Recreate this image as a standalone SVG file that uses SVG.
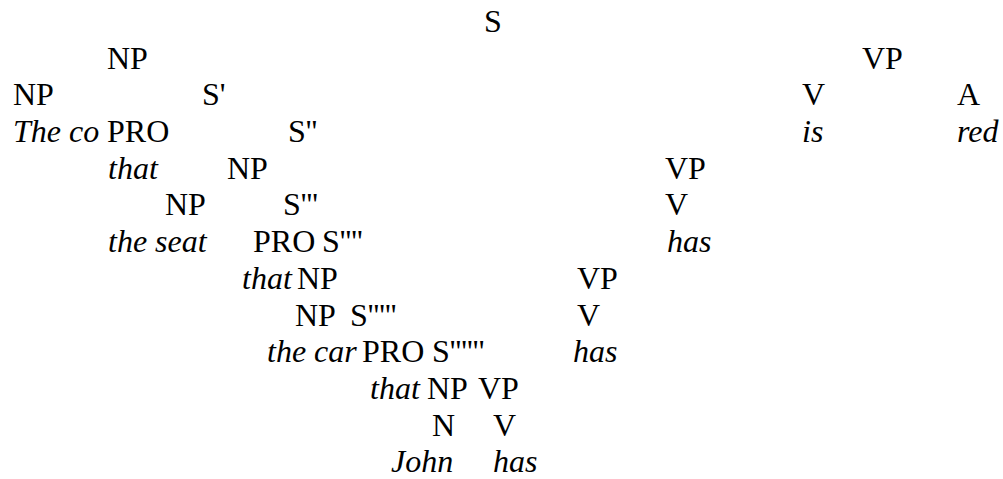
<svg xmlns="http://www.w3.org/2000/svg" width="1003" height="479" viewBox="0 0 1003 479">
<style>
text{font-family:"Liberation Serif","Times New Roman",serif;font-size:32px;fill:#000}
.w{font-style:italic}
</style>
<rect width="1003" height="479" fill="#fff"/>
<g id="nodes">
<g id="r1"><text x="484" y="32">S</text></g>
<g id="r2"><text x="107" y="69">NP</text><text x="862" y="69">VP</text></g>
<g id="r3"><text x="13" y="105">NP</text><text x="202" y="105">S'</text><text x="802" y="105">V</text><text x="957" y="105">A</text></g>
<g id="r4"><text class="w" x="13" y="142">The co</text><text x="107" y="142">PRO</text><text x="288" y="142">S''</text><text class="w" x="802" y="142">is</text><text class="w" x="957" y="142">red</text></g>
<g id="r5"><text class="w" x="108" y="179">that</text><text x="227" y="179">NP</text><text x="665" y="179">VP</text></g>
<g id="r6"><text x="165" y="215">NP</text><text x="283" y="215">S'''</text><text x="665" y="215">V</text></g>
<g id="r7"><text class="w" x="108" y="252">the seat</text><text x="253" y="252">PRO</text><text x="322" y="252">S''''</text><text class="w" x="667" y="252">has</text></g>
<g id="r8"><text class="w" x="242" y="289">that</text><text x="297" y="289">NP</text><text x="577" y="289">VP</text></g>
<g id="r9"><text x="295" y="326">NP</text><text x="350" y="326">S'''''</text><text x="577" y="326">V</text></g>
<g id="r10"><text class="w" x="267" y="362">the car</text><text x="362" y="362">PRO</text><text x="432" y="362">S''''''</text><text class="w" x="573" y="362">has</text></g>
<g id="r11"><text class="w" x="370" y="399">that</text><text x="427" y="399">NP</text><text x="478" y="399">VP</text></g>
<g id="r12"><text x="432" y="436">N</text><text x="493" y="436">V</text></g>
<g id="r13"><text class="w" x="391" y="472">John</text><text class="w" x="493" y="472">has</text></g>
</g>
<g id="connectors"></g>
</svg>
